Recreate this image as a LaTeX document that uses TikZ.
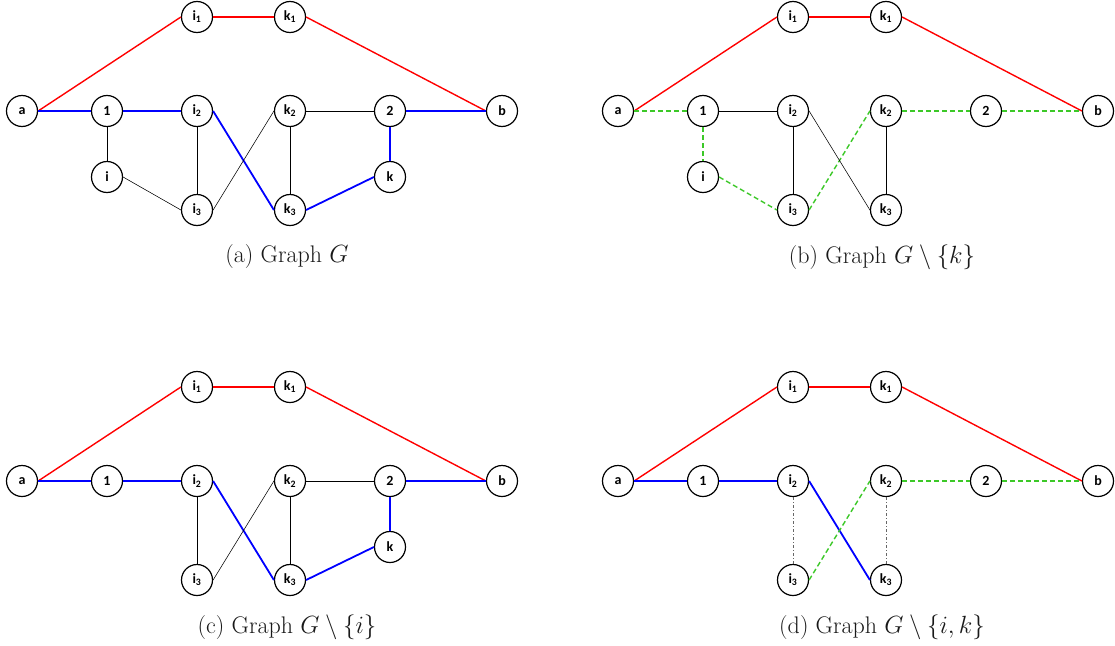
\documentclass[tikz,border=0pt]{standalone}
\usepackage{fontspec}
\newfontfamily\nodefont{Carlito}
\definecolor{grn}{RGB}{60,200,40}
\begin{document}
\begin{tikzpicture}[x=1pt,y=-1pt,
  vtx/.style={circle,draw,line width=1.2pt,minimum size=31pt,inner sep=0pt,fill=white,
    font=\nodefont\bfseries\fontsize{14}{14}\selectfont},
  redE/.style={red,line width=1.4pt},
  blueE/.style={blue,line width=1.8pt},
  blk/.style={black,line width=0.85pt},
  blkthin/.style={black,line width=0.55pt},
  grnE/.style={grn,line width=1.4pt,dash pattern=on 5pt off 3pt},
  gryE/.style={black!60,line width=0.8pt,dash pattern=on 3pt off 2pt on 1pt off 2pt},
  captext/.style={font=\fontsize{24}{28}\selectfont,text=black!90}]
\path[use as bounding box] (0,0) rectangle (1115,645);

% ---------- (a) ----------
\begin{scope}[name prefix=A-]
\node[vtx] (a) at (22,111) {a};
\node[vtx] (1) at (107,111) {1};
\node[vtx] (i2) at (197,111) {i\textsubscript{2}};
\node[vtx] (k2) at (290,111) {k\textsubscript{2}};
\node[vtx] (2) at (390,111) {2};
\node[vtx] (b) at (502,111) {b};
\node[vtx] (i1) at (197,17) {i\textsubscript{1}};
\node[vtx] (k1) at (290,17) {k\textsubscript{1}};
\node[vtx] (i) at (107,177) {i};
\node[vtx] (i3) at (197,210) {i\textsubscript{3}};
\node[vtx] (k3) at (290,210) {k\textsubscript{3}};
\node[vtx] (k) at (390,177) {k};
\draw[redE] (a.east) -- (i1.west);
\draw[redE] (i1) -- (k1);
\draw[redE] (k1.east) -- (b.west);
\draw[blueE] (a) -- (1);
\draw[blueE] (1) -- (i2);
\draw[blueE] (i2.east) -- (k3.west);
\draw[blueE] (k3.east) -- (k.west);
\draw[blueE] (k) -- (2);
\draw[blueE] (2) -- (b);
\draw[blk] (1) -- (i);
\draw[blkthin] (i.east) -- (i3.west);
\draw[blk] (i2) -- (i3);
\draw[blkthin] (i3.east) -- (k2.west);
\draw[blk] (k2) -- (k3);
\draw[blk] (k2) -- (2);
\end{scope}

% ---------- (b) ----------
\begin{scope}[name prefix=B-]
\node[vtx] (a) at (618,111) {a};
\node[vtx] (1) at (703,111) {1};
\node[vtx] (i2) at (793,111) {i\textsubscript{2}};
\node[vtx] (k2) at (886,111) {k\textsubscript{2}};
\node[vtx] (2) at (986,111) {2};
\node[vtx] (b) at (1098,111) {b};
\node[vtx] (i1) at (793,17) {i\textsubscript{1}};
\node[vtx] (k1) at (886,17) {k\textsubscript{1}};
\node[vtx] (i) at (703,177) {i};
\node[vtx] (i3) at (793,210) {i\textsubscript{3}};
\node[vtx] (k3) at (886,210) {k\textsubscript{3}};
\draw[redE] (a.east) -- (i1.west);
\draw[redE] (i1) -- (k1);
\draw[redE] (k1.east) -- (b.west);
\draw[grnE] (a) -- (1);
\draw[grnE] (1) -- (i);
\draw[grnE] (i.east) -- (i3.west);
\draw[grnE] (i3.east) -- (k2.west);
\draw[grnE] (k2) -- (2);
\draw[grnE] (2) -- (b);
\draw[blk] (1) -- (i2);
\draw[blk] (i2) -- (i3);
\draw[blkthin] (i2.east) -- (k3.west);
\draw[blk] (k2) -- (k3);
\end{scope}

% ---------- (c) ----------
\begin{scope}[name prefix=C-]
\node[vtx] (a) at (22,481) {a};
\node[vtx] (1) at (107,481) {1};
\node[vtx] (i2) at (197,481) {i\textsubscript{2}};
\node[vtx] (k2) at (290,481) {k\textsubscript{2}};
\node[vtx] (2) at (390,481) {2};
\node[vtx] (b) at (502,481) {b};
\node[vtx] (i1) at (197,387) {i\textsubscript{1}};
\node[vtx] (k1) at (290,387) {k\textsubscript{1}};
\node[vtx] (i3) at (197,580) {i\textsubscript{3}};
\node[vtx] (k3) at (290,580) {k\textsubscript{3}};
\node[vtx] (k) at (390,547) {k};
\draw[redE] (a.east) -- (i1.west);
\draw[redE] (i1) -- (k1);
\draw[redE] (k1.east) -- (b.west);
\draw[blueE] (a) -- (1);
\draw[blueE] (1) -- (i2);
\draw[blueE] (i2.east) -- (k3.west);
\draw[blueE] (k3.east) -- (k.west);
\draw[blueE] (k) -- (2);
\draw[blueE] (2) -- (b);
\draw[blk] (i2) -- (i3);
\draw[blkthin] (i3.east) -- (k2.west);
\draw[blk] (k2) -- (k3);
\draw[blk] (k2) -- (2);
\end{scope}

% ---------- (d) ----------
\begin{scope}[name prefix=D-]
\node[vtx] (a) at (618,481) {a};
\node[vtx] (1) at (703,481) {1};
\node[vtx] (i2) at (793,481) {i\textsubscript{2}};
\node[vtx] (k2) at (886,481) {k\textsubscript{2}};
\node[vtx] (2) at (986,481) {2};
\node[vtx] (b) at (1098,481) {b};
\node[vtx] (i1) at (793,387) {i\textsubscript{1}};
\node[vtx] (k1) at (886,387) {k\textsubscript{1}};
\node[vtx] (i3) at (793,580) {i\textsubscript{3}};
\node[vtx] (k3) at (886,580) {k\textsubscript{3}};
\draw[redE] (a.east) -- (i1.west);
\draw[redE] (i1) -- (k1);
\draw[redE] (k1.east) -- (b.west);
\draw[blueE] (a) -- (1);
\draw[blueE] (1) -- (i2);
\draw[blueE] (i2.east) -- (k3.west);
\draw[grnE] (i3.east) -- (k2.west);
\draw[grnE] (k2) -- (2);
\draw[grnE] (2) -- (b);
\draw[gryE] (i2) -- (i3);
\draw[gryE] (k2) -- (k3);
\end{scope}

% ---------- captions ----------
\node[captext] (capA) at (287,257) {(a) Graph $G$};
\node[captext] (capB) at (882,257) {(b) Graph $G\setminus\{k\}$};
\node[captext] (capC) at (287,627) {(c) Graph $G\setminus\{i\}$};
\node[captext] (capD) at (882,627) {(d) Graph $G\setminus\{i,k\}$};
\end{tikzpicture}
\end{document}
